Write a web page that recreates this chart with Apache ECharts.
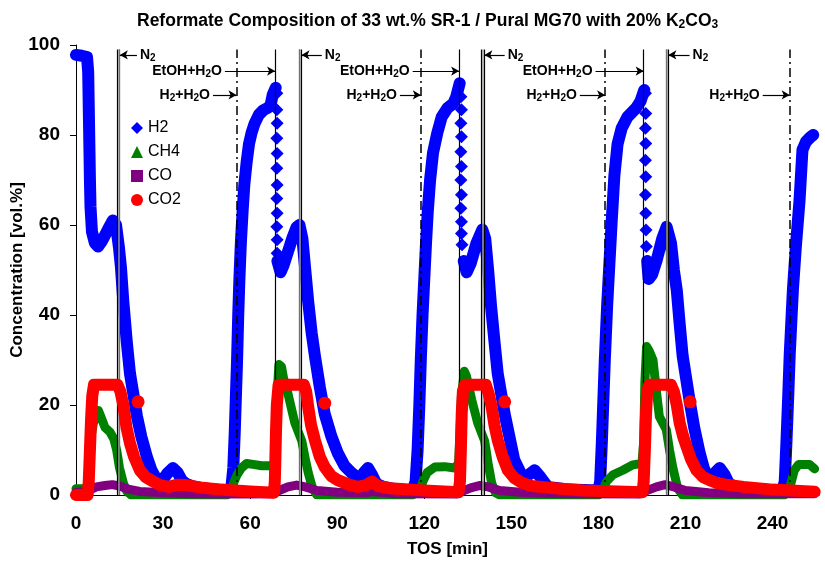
<!DOCTYPE html>
<html>
<head>
    <meta charset="UTF-8">
    <style type="text/css">
        body { margin: 0; padding: 0; overflow: hidden; background: #fff }
        #chart { width: 825px; height: 564px }
    </style>
</head>
<body>
    <div id="chart"></div>
    <script src="https://cdn.jsdelivr.net/npm/echarts/dist/echarts.min.js"></script>
    <script>
        // readings, [TOS min, vol.%]; '-' breaks the line where single markers show
        let H2 = [
            [0, 97.8], [2, 97.6], [3.8, 97.3], [4.2, 94], [4.4, 86], [4.6, 78], [4.8, 70], [5.0, 64], [5.5, 58.5], [6.5, 56], [7.6, 55.2], [9, 56.5], [11, 59], [12.7, 61], [13.8, 60],
            [14.8, 55], [15.5, 50.5], [16.3, 43], [17.5, 34], [18.6, 27], [20, 21.5], [21, 17.5], [22.5, 13], [24.4, 8.5], [26, 5.5], [27.9, 3.3], [30, 3.5], [31.5, 4.8], [33.4, 6],
            [35, 5], [36.5, 3.2], [38, 2.5], [40, 2], [43.7, 1.5], [48, 1.2], [52, 1], [53.5, 1.5], [54.2, 6], [54.7, 14], [55.1, 22], [55.5, 30], [55.9, 40], [56.3, 48], [56.8, 56],
            [57.4, 63], [58, 69], [58.8, 74], [59.6, 78], [60.5, 80.5], [61.5, 82.5], [63, 84.5], [64.5, 85.5], [66, 86], [67, 86.5], [67.8, 89], [68.8, 90.5], [69, '-'],
            [69.4, 52], [70.5, 49.5], [71.5, 51], [73, 54], [74.5, 57], [76, 59.5], [77, 60], [78, 57], [79, 50], [80, 43], [81.2, 36], [82.3, 31], [84, 24], [85.7, 18], [88, 13],
            [90.2, 9.3], [92.5, 6.5], [95, 4.9], [97.8, 3.5], [99.2, 5], [100.6, 6], [102, 4.5], [103.5, 2.5], [106, 1.8], [110, 1.3], [116, 1],
            [117, 3], [117.7, 10], [118.3, 20], [118.8, 30], [119.4, 40], [120, 48], [120.6, 56], [121.2, 63], [122, 70], [123, 76], [124.5, 80.5], [126, 84], [128, 86], [130, 87],
            [131, 88.5], [132.2, 91.5], [132.5, '-'],
            [133.6, 52], [134.6, 49.5], [136, 51.5], [138, 56], [140, 59], [141, 57], [142, 50], [143, 42], [144.2, 34], [145.3, 27], [147.7, 18], [151, 7.8], [154, 3.8], [156, 4.5],
            [158, 5.5], [160, 4], [162.5, 1.8], [170, 1.2], [180, 1],
            [180.6, 3], [181.2, 12], [182.2, 30], [183, 42], [184.5, 60], [185.5, 71], [186.6, 78], [188, 81.5], [190, 84], [193, 86], [194.5, 87.5], [195.8, 90], [196, '-'],
            [196.8, 52], [197.3, 48], [198.5, 49], [200, 52], [202, 57], [203.5, 59.6], [205, 56], [206, 50], [207, 45.5], [208, 38], [209, 31], [210.2, 26], [211.4, 21], [213, 15],
            [214.9, 9.3], [216.3, 6], [217.6, 4], [219.5, 4.5], [221.8, 6], [223.5, 4.5], [225, 2.5], [228, 1.6], [235, 1.2], [243.4, 1],
            [244.2, 3], [244.8, 12], [245.4, 22], [245.9, 31], [246.5, 39], [247, 45.5], [248, 55], [249.3, 65.5], [250.3, 76.7], [251.5, 78.5], [253, 79.5], [254, 80]
        ];
        // separate H2 diamonds in the fast drops after EtOH is switched on
        let H2_DROP = [
            [69.2, 89.3], [69.2, 85.6], [69.3, 82.6], [69.2, 79.3], [69.3, 75.9], [69.2, 72.6], [69.3, 68.9], [69.2, 65.9], [69.3, 62.6], [69.2, 59.6], [69.3, 56.7], [69.3, 53.7],
            [132.6, 88.5], [132.8, 85.6], [132.6, 82.6], [132.8, 79.6], [132.6, 76.3], [132.8, 73], [132.6, 70], [132.8, 66.7], [132.6, 63.7], [132.8, 60.7], [132.8, 58.1], [133, 55.6],
            [196.2, 89.3], [196.3, 84.8], [196.2, 81.5], [196.3, 78.1], [196.2, 74.4], [196.3, 70.7], [196.2, 66.7], [196.3, 62.6], [196.4, 58.9], [196.5, 55.2]
        ];
        let CH4 = [
            [0, 1.4], [3.5, 1.4], [4.3, 3], [4.7, 8], [5.2, 13], [6, 16], [7, 18], [7.7, 18.8], [8.5, 17.5], [10, 15], [11.7, 14], [13, 12.5], [14, 10], [15, 6], [16.3, 2.7], [17.5, 0.8],
            [19, 0], [52, 0], [53.5, 1], [54.5, 3], [55.5, 4.5], [57, 6], [58.8, 7], [61, 6.8], [64, 6.5], [67, 6.5], [68.4, 7], [68.8, 12], [69.3, 22], [69.9, 29], [70.8, 28.5],
            [71.5, 26], [73, 22.6], [75.4, 16], [77.8, 12], [79, 8], [80, 5], [81.5, 1.5], [83, 0], [116, 0], [118.5, 1], [119.5, 3], [121, 5], [123.6, 6.2], [127, 6.3], [130.5, 6],
            [131.8, 7], [132.3, 14], [132.8, 22], [133.8, 27.5], [134.5, 26.5], [136.4, 21], [138.4, 16], [140.8, 12], [142, 7], [143.2, 2.7], [144.5, 0.5], [146, 0], [180, 0],
            [181.5, 1], [182.8, 3], [185, 4.5], [188.4, 5.5], [191.8, 6.7], [195, 7], [195.6, 12], [196, 25], [196.6, 33], [197.5, 32], [198.8, 30], [200, 23], [201, 17.4],
            [203.4, 14.5], [204.5, 10], [205.6, 6.2], [207.3, 1.5], [209, 0], [244, 0], [245.5, 1], [246.5, 3], [247.5, 5.5], [249, 6.8], [252.7, 6.8], [254.5, 5.8]
        ];
        let CO = [
            [0, 0.6], [4, 0.7], [5, 1.2], [7, 1.8], [10, 2.1], [12.5, 2.3], [15, 2], [18, 1.3], [22, 0.8], [30, 0.5], [40, 0.3], [55, 0.2], [60, 0.2], [68, 0.3], [70, 1], [73, 1.8],
            [76, 2.2], [79, 1.8], [83, 1], [90, 0.6], [100, 0.5], [102, 0.8], [110, 0.3], [131, 0.2], [133, 0.8], [136, 1.6], [139, 2.1], [142, 1.8], [146, 1], [155, 0.5], [170, 0.3],
            [194, 0.2], [196, 0.8], [200, 1.8], [203, 2.3], [206, 1.8], [210, 1], [218, 0.5], [230, 0.3], [254.5, 0.3]
        ];
        let CO2 = [
            [0, 0], [4, 0], [4.4, 3], [4.8, 10], [5.2, 17], [5.6, 22], [6.2, 24.5], [10, 24.5], [14.3, 24.5], [15.3, 23], [16.3, 20], [17.4, 15], [18.6, 11.5], [20, 8.5], [22, 5.5],
            [24, 4], [26.6, 3], [29, 2.2], [32, 1.8], [35, 2.3], [38, 2.2], [43.7, 1.6], [50, 1.2], [60, 0.8], [68.2, 0.5], [68.5, 3], [68.7, 8], [68.9, 14], [69.2, 20], [69.8, 24.5],
            [78.5, 24.5], [79.3, 23], [80, 19.6], [81, 15.5], [82.3, 12.2], [84, 8.5], [85.7, 6.2], [88, 4.2], [90.2, 3.3], [94, 2.3], [97, 1.8], [100, 2.2], [102, 3], [104, 2],
            [108, 1.5], [120, 1], [131.8, 0.6], [132.3, 3], [132.6, 10], [132.9, 18], [133.3, 23], [134, 24.5], [141.2, 24.5], [142.2, 22.5], [143.2, 19.6], [144.2, 15.5],
            [145.3, 12.2], [147, 8.5], [148.8, 5.5], [151, 3.8], [153.6, 2.7], [157, 2], [160.5, 1.8], [165, 1.5], [175, 1], [195.2, 0.6], [195.6, 3], [196, 10], [196.4, 18],
            [196.8, 23], [197.5, 24.5], [205, 24.5], [206, 23], [207, 20], [208, 16], [209.2, 13], [210.4, 10.7], [212, 7.8], [213.8, 5.5], [216, 4], [218.3, 3.3], [221, 2.6],
            [224, 2.3], [230, 1.8], [240, 1.2], [254.5, 0.7]
        ];
        let CO2_DOTS = [[21.4, 20.7], [85.7, 20.4], [147.7, 20.7], [211.6, 20.7]];

        // switching times [min]
        let N2_ON = [14.2, 76.8, 139.8, 203.2];
        let ETOH_ON = [68.6, 132.0, 195.6];
        let H2_ON = [55.3, 118.8, 182.3, 245.9];
        // annotation arrows: [from, to, level]
        let N2_ARROWS = [[21, 15.1, 97.8], [84.7, 77.7, 97.8], [147.7, 140.7, 97.8], [211.4, 204.1, 97.8]];
        let ETOH_ARROWS = [[51.3, 68.6, 94.2], [116, 132.0, 94.2], [179, 195.6, 94.2]];
        let H2_ARROWS = [[47.2, 55.3, 88.9], [111.6, 118.8, 88.9], [173.6, 182.3, 88.9], [236.6, 245.9, 88.9]];

        const FONT = 'Liberation Sans, Arial, sans-serif';
        const LINE_TOP = 99;

        let RICH = {
            b: { fontSize: 14, fontWeight: 'bold', fontFamily: FONT, color: '#000' },
            s: { fontSize: 10, fontWeight: 'bold', fontFamily: FONT, color: '#000', padding: [7, 0, 0, 0] }
        };

        function vline(t) {
            return [{ coord: [t, 0] }, { coord: [t, LINE_TOP] }];
        }
        function arrow(a, text) {
            return [{ coord: [a[0], a[2]], label: { formatter: text } }, { coord: [a[1], a[2]] }];
        }

        let lineMarks = [];
        N2_ON.forEach(t => {
            lineMarks.push(vline(t));
            lineMarks.push(vline(t + 0.8));
        });
        ETOH_ON.forEach(t => lineMarks.push(vline(t)));

        let arrowMarks = [];
        N2_ARROWS.forEach(a => arrowMarks.push(arrow(a, '{b|N}{s|2}')));
        ETOH_ARROWS.forEach(a => arrowMarks.push(arrow(a, '{b|EtOH+H}{s|2}{b|O}')));
        H2_ARROWS.forEach(a => arrowMarks.push(arrow(a, '{b|H}{s|2}{b|+H}{s|2}{b|O}')));

        function band(name, data, color, width, z) {
            return {
                name: name, type: 'line', data: data, showSymbol: false, connectNulls: false, z: z,
                lineStyle: { color: color, width: width, join: 'round', cap: 'round' },
                itemStyle: { color: color }, animation: false, silent: true
            };
        }
        function dots(name, data, symbol, size, color, z) {
            return {
                name: name, type: 'scatter', data: data, symbol: symbol, symbolSize: size, z: z,
                itemStyle: { color: color, opacity: 1 }, silent: true, animation: false
            };
        }

        var myChart = echarts.init(document.getElementById('chart'));

        let option = {
            animation: false,
            title: {
                text: '{t|Reformate Composition of 33 wt.% SR-1 / Pural MG70 with 20% K}{s|2}{t|CO}{s|3}',
                left: 132,
                top: 6,
                textStyle: {
                    rich: {
                        t: { fontSize: 17.5, fontWeight: 'bold', fontFamily: FONT, color: '#000' },
                        s: { fontSize: 12, fontWeight: 'bold', fontFamily: FONT, color: '#000', padding: [8, 0, 0, 0] }
                    }
                }
            },
            grid: { left: 76, right: 6, top: 45, bottom: 69, containLabel: false, outerBoundsMode: 'none' },
            legend: {
                orient: 'vertical',
                left: 126,
                top: 115,
                itemWidth: 12,
                itemHeight: 12,
                itemGap: 8,
                textStyle: { fontSize: 16, fontFamily: FONT, color: '#000' },
                data: [
                    { name: 'H2', icon: 'diamond' },
                    { name: 'CH4', icon: 'triangle' },
                    { name: 'CO', icon: 'rect' },
                    { name: 'CO2', icon: 'circle' }
                ]
            },
            xAxis: {
                type: 'value', min: 0, max: 256, interval: 30,
                name: 'TOS [min]', nameLocation: 'middle', nameGap: 46,
                nameTextStyle: { fontSize: 17, fontWeight: 'bold', fontFamily: FONT, color: '#000' },
                axisLine: { lineStyle: { color: '#000', width: 1 } },
                axisTick: { inside: false, length: 4, lineStyle: { color: '#000' } },
                axisLabel: { fontSize: 19, fontWeight: 'bold', fontFamily: FONT, color: '#000', margin: 19, showMaxLabel: false },
                splitLine: { show: false }
            },
            yAxis: {
                type: 'value', min: 0, max: 100, interval: 20,
                name: 'Concentration [vol.%]', nameLocation: 'middle', nameGap: 50, nameMoveOverlap: false,
                nameTextStyle: { fontSize: 17, fontWeight: 'bold', fontFamily: FONT, color: '#000' },
                axisLine: { show: true, lineStyle: { color: '#000', width: 1 } },
                axisTick: { show: true, inside: false, length: 6, lineStyle: { color: '#000' } },
                axisLabel: { fontSize: 19, fontWeight: 'bold', fontFamily: FONT, color: '#000', margin: 16 },
                splitLine: { show: false }
            },
            series: [
                band('H2', H2, '#0000ff', 12, 2),
                dots('H2', H2_DROP, 'diamond', 13, '#0000ff', 2),
                band('CH4', CH4, '#008000', 9, 3),
                band('CO', CO, '#800080', 9, 4),
                band('CO2', CO2, '#ff0000', 12, 5),
                dots('CO2', CO2_DOTS, 'circle', 13, '#ff0000', 6),
                {
                    name: 'switch', type: 'line', data: [], silent: true, z: 10,
                    markLine: {
                        silent: true, animation: false, symbol: 'none',
                        label: { show: false },
                        lineStyle: { color: '#000', width: 1.2, type: 'solid' },
                        data: lineMarks.concat(H2_ON.map(t => {
                            let l = vline(t);
                            l[0].lineStyle = { color: '#000', width: 1.5, type: [9, 4, 2, 4] };
                            return l;
                        }))
                    }
                },
                {
                    name: 'n2fill', type: 'line', data: [], silent: true, z: 9,
                    markLine: {
                        silent: true, animation: false, symbol: 'none',
                        label: { show: false },
                        lineStyle: { color: '#999', width: 1.5, type: 'solid' },
                        data: N2_ON.map(t => vline(t + 0.4))
                    }
                },
                {
                    name: 'notes', type: 'line', data: [], silent: true, z: 11,
                    markLine: {
                        silent: true, animation: false,
                        symbol: ['none', 'arrow'], symbolSize: [7, 8],
                        lineStyle: { color: '#000', width: 1.2, type: 'solid' },
                        label: { show: true, position: 'start', distance: 3, rich: RICH },
                        data: arrowMarks
                    }
                }
            ]
        };
        myChart.setOption(option);
    </script>
</body>
</html>
